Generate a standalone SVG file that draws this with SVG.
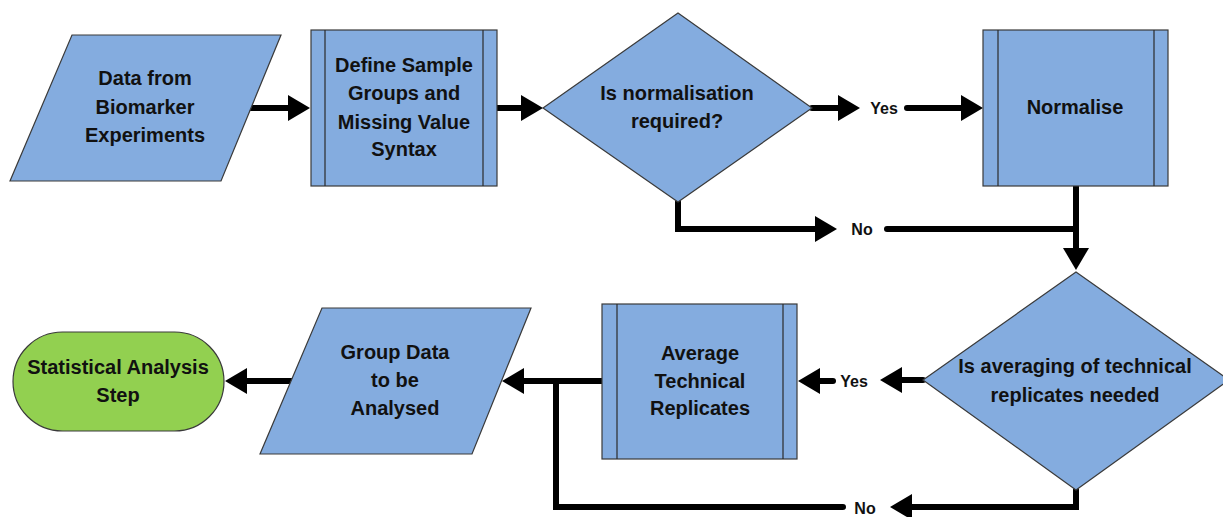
<svg xmlns="http://www.w3.org/2000/svg" width="1223" height="517" viewBox="0 0 1223 517">
  <style>
    .shape { fill: #84acdf; stroke: #3a3a3a; stroke-width: 1.2; }
    .term { fill: #92d050; stroke: #3a3a3a; stroke-width: 1.2; }
    .bar { stroke: #2a2a2a; stroke-width: 1.2; fill: none; }
    .lbl { font-family: "Liberation Sans", Arial, sans-serif; font-weight: bold; font-size: 20px; fill: #111; text-anchor: middle; }
    .yn { font-family: "Liberation Sans", Arial, sans-serif; font-weight: bold; font-size: 16px; fill: #111; text-anchor: middle; }
    .wire { fill: none; stroke: #000; stroke-width: 6; stroke-linecap: round; stroke-linejoin: miter; }
    .arrow { marker-end: url(#head); }
  </style>
  <defs>
    <marker id="head" markerUnits="userSpaceOnUse" markerWidth="22" markerHeight="26" refX="0" refY="13" orient="auto" overflow="visible">
      <path d="M0,0 L22,13 L0,26 Z" fill="#000"/>
    </marker>
  </defs>

  <rect width="1223" height="517" fill="#fff"/>

  <!-- connectors -->
  <g id="connectors">
    <path class="wire arrow" d="M248,108 L288,108"/>
    <path class="wire arrow" d="M497,108 L521,108"/>
    <path class="wire arrow" d="M812,108 L838,108"/>
    <path class="wire arrow" d="M907,108 L961,108"/>
    <path class="wire arrow" d="M678,202 L678,229 L815,229"/>
    <path class="wire" d="M887,229 L1076,229"/>
    <path class="wire arrow" d="M1076,186 L1076,248"/>
    <path class="wire arrow" d="M923,380 L902,380"/>
    <path class="wire arrow" d="M833,381 L820,381"/>
    <path class="wire arrow" d="M602,381 L524,381"/>
    <path class="wire arrow" d="M1076,490 L1076,507 L912,507"/>
    <path class="wire" d="M843,507 L556,507 L556,381"/>
    <path class="wire arrow" d="M293,381 L247,381"/>
    <text class="yn" x="884" y="114">Yes</text>
    <text class="yn" x="862" y="235">No</text>
    <text class="yn" x="854" y="387">Yes</text>
    <text class="yn" x="865" y="514">No</text>
  </g>

  <!-- input data -->
  <g id="data-input">
    <polygon class="shape" points="72,35 281,35 221,181 10,181"/>
    <text class="lbl" x="145" y="85">Data from</text>
    <text class="lbl" x="145" y="114">Biomarker</text>
    <text class="lbl" x="145" y="142">Experiments</text>
  </g>

  <!-- define groups -->
  <g id="define-groups">
    <rect class="shape" x="311" y="30" width="186" height="156"/>
    <line class="bar" x1="325" y1="30" x2="325" y2="186"/>
    <line class="bar" x1="483" y1="30" x2="483" y2="186"/>
    <text class="lbl" x="404" y="72">Define Sample</text>
    <text class="lbl" x="404" y="100">Groups and</text>
    <text class="lbl" x="404" y="129">Missing Value</text>
    <text class="lbl" x="404" y="156">Syntax</text>
  </g>

  <!-- normalisation decision -->
  <g id="normalise-decision">
    <polygon class="shape" points="678,13 812,108 678,202 543,108"/>
    <text class="lbl" x="677" y="100">Is normalisation</text>
    <text class="lbl" x="677" y="128">required?</text>
  </g>

  <!-- normalise -->
  <g id="normalise">
    <rect class="shape" x="983" y="30" width="185" height="156"/>
    <line class="bar" x1="998" y1="30" x2="998" y2="186"/>
    <line class="bar" x1="1154" y1="30" x2="1154" y2="186"/>
    <text class="lbl" x="1075" y="114">Normalise</text>
  </g>

  <!-- averaging decision -->
  <g id="averaging-decision">
    <polygon class="shape" points="1076,272 1229,380 1076,490 923,380"/>
    <text class="lbl" x="1075" y="373">Is averaging of technical</text>
    <text class="lbl" x="1075" y="402">replicates needed</text>
  </g>

  <!-- average replicates -->
  <g id="average-replicates">
    <rect class="shape" x="602" y="304" width="195" height="155"/>
    <line class="bar" x1="617" y1="304" x2="617" y2="459"/>
    <line class="bar" x1="783" y1="304" x2="783" y2="459"/>
    <text class="lbl" x="700" y="360">Average</text>
    <text class="lbl" x="700" y="388">Technical</text>
    <text class="lbl" x="700" y="415">Replicates</text>
  </g>

  <!-- grouped data -->
  <g id="group-data">
    <polygon class="shape" points="322,308 531,308 472,454 260,454"/>
    <text class="lbl" x="395" y="359">Group Data</text>
    <text class="lbl" x="395" y="387">to be</text>
    <text class="lbl" x="395" y="415">Analysed</text>
  </g>

  <!-- terminal -->
  <g id="statistical-analysis">
    <rect class="term" x="13" y="332" width="211" height="99" rx="49.5" ry="49.5"/>
    <text class="lbl" x="118" y="374">Statistical Analysis</text>
    <text class="lbl" x="118" y="402">Step</text>
  </g>
</svg>
